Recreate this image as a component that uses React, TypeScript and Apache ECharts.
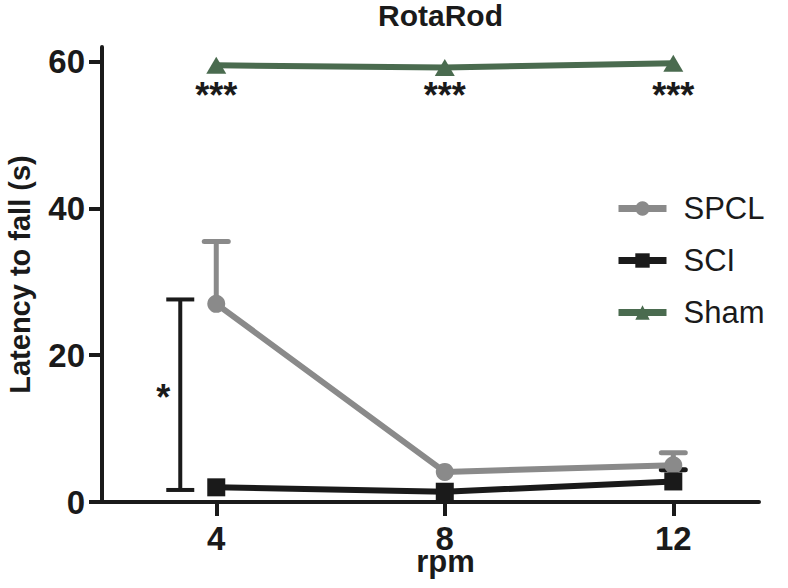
import React, { useEffect, useRef } from "react";
import * as echarts from "echarts";

const rpm = [4, 8, 12];
const spclMean = [27.0, 4.1, 5.0];
const spclUpper = [35.5, 4.1, 6.7];
const sciMean = [2.0, 1.4, 2.8];
const sciUpper = [2.0, 1.4, 4.4];
const shamMean = [59.5, 59.2, 59.8];
const xTicks = [4, 8, 12];
const yTicks = [0, 20, 40, 60];
const shamStarLabel = "***";
const shamStarY = 55.4;
const bracketX = 3.37;
const bracketLow = 1.64;
const bracketHigh = 27.6;
const bracketStar = "*";
const bracketStarX = 3.07;
const bracketStarY = 14.2;

const FONT = '"Liberation Sans", Arial, Helvetica, sans-serif';
const GRAY = "#8a8a8a";
const BLACK = "#1a1a1a";
const GREEN = "#4a6b4f";

const errorBarSeries = (means: number[], uppers: number[], color: string, z: number) => ({
  type: "custom",
  data: rpm.map((x, i) => [x, means[i], uppers[i]]),
  encode: { x: 0, y: [1, 2] },
  z,
  silent: true,
  renderItem: (_p: any, api: any) => {
    const x = api.value(0);
    const lo = api.value(1);
    const hi = api.value(2);
    if (hi <= lo) return { type: "group", children: [] };
    const a = api.coord([x, lo]);
    const b = api.coord([x, hi]);
    return {
      type: "group",
      children: [
        { type: "line", shape: { x1: a[0], y1: a[1], x2: b[0], y2: b[1] }, style: { stroke: color, lineWidth: 5 } },
        { type: "line", shape: { x1: b[0] - 12, y1: b[1], x2: b[0] + 12, y2: b[1] }, style: { stroke: color, lineWidth: 5, lineCap: "round" } },
      ],
    };
  },
});

const textSeries = (points: number[][], texts: string[], font: string) => ({
  type: "custom",
  data: points,
  encode: { x: 0, y: 1 },
  silent: true,
  z: 10,
  renderItem: (p: any, api: any) => {
    const c = api.coord([api.value(0), api.value(1)]);
    return {
      type: "text",
      x: c[0],
      y: c[1],
      style: { text: texts[p.dataIndex], font, fill: BLACK, align: "center", verticalAlign: "middle" },
    };
  },
});

export default function App() {
  const ref = useRef<HTMLDivElement>(null);
  useEffect(() => {
    if (!ref.current) return;
    const chart = echarts.init(ref.current, undefined, { renderer: "svg" });
    chart.setOption({
      animation: false,
      backgroundColor: "#ffffff",
      title: {
        text: "RotaRod",
        left: 378,
        top: 0,
        padding: 0,
        textStyle: { fontFamily: FONT, fontWeight: "bold", fontSize: 30, color: BLACK },
      },
      legend: {
        orient: "vertical",
        left: 610,
        top: 188,
        itemWidth: 48,
        itemHeight: 18,
        itemGap: 21,
        data: ["SPCL", "SCI", "Sham"],
        lineStyle: { width: 7 },
        textStyle: { fontFamily: FONT, fontSize: 31, color: BLACK, padding: [0, 0, 0, 12] },
      },
      grid: { left: 102, right: 29, top: 47, bottom: 86, outerBoundsMode: "none" },
      xAxis: {
        type: "value",
        min: 2,
        max: 13.5,
        name: "rpm",
        nameLocation: "middle",
        nameGap: 49,
        nameMoveOverlap: false,
        nameTextStyle: {
          fontFamily: FONT,
          fontWeight: "bold",
          fontSize: 31,
          lineHeight: 20,
          color: BLACK,
          padding: [0, 0, 0, 30],
        },
        splitLine: { show: false },
        axisLine: { lineStyle: { color: BLACK, width: 4 } },
        axisTick: { customValues: xTicks, length: 14, lineStyle: { color: BLACK, width: 4 } },
        axisLabel: {
          customValues: xTicks,
          margin: 26,
          lineHeight: 20,
          fontFamily: FONT,
          fontWeight: "bold",
          fontSize: 33,
          color: BLACK,
        },
      },
      yAxis: {
        type: "value",
        min: 0,
        max: 62,
        name: "Latency to fall (s)",
        nameLocation: "middle",
        nameGap: 68,
        nameTextStyle: { fontFamily: FONT, fontWeight: "bold", fontSize: 29, color: BLACK },
        splitLine: { show: false },
        axisLine: { show: true, lineStyle: { color: BLACK, width: 4 } },
        axisTick: { show: true, customValues: yTicks, length: 13, lineStyle: { color: BLACK, width: 4 } },
        axisLabel: {
          customValues: yTicks,
          margin: 17,
          fontFamily: FONT,
          fontWeight: "bold",
          fontSize: 33,
          color: BLACK,
        },
      },
      series: [
        errorBarSeries(spclMean, spclUpper, GRAY, 1),
        errorBarSeries(sciMean, sciUpper, BLACK, 1),
        {
          name: "SPCL",
          type: "line",
          data: rpm.map((x, i) => [x, spclMean[i]]),
          symbol: "circle",
          symbolSize: 18,
          lineStyle: { color: GRAY, width: 6 },
          itemStyle: { color: GRAY },
          z: 3,
        },
        {
          name: "SCI",
          type: "line",
          data: rpm.map((x, i) => [x, sciMean[i]]),
          symbol: "rect",
          symbolSize: 18,
          lineStyle: { color: BLACK, width: 6 },
          itemStyle: { color: BLACK },
          z: 4,
        },
        {
          name: "Sham",
          type: "line",
          data: rpm.map((x, i) => [x, shamMean[i]]),
          symbol: "triangle",
          symbolSize: [20, 17],
          lineStyle: { color: GREEN, width: 6 },
          itemStyle: { color: GREEN },
          z: 3,
        },
        {
          type: "custom",
          data: [[bracketX, bracketLow, bracketHigh]],
          encode: { x: 0, y: [1, 2] },
          silent: true,
          z: 5,
          renderItem: (_p: any, api: any) => {
            const a = api.coord([api.value(0), api.value(1)]);
            const b = api.coord([api.value(0), api.value(2)]);
            const st = { stroke: BLACK, lineWidth: 4 };
            return {
              type: "group",
              children: [
                { type: "line", shape: { x1: a[0], y1: a[1], x2: b[0], y2: b[1] }, style: st },
                { type: "line", shape: { x1: a[0] - 14, y1: a[1], x2: a[0] + 14, y2: a[1] }, style: st },
                { type: "line", shape: { x1: b[0] - 14, y1: b[1], x2: b[0] + 14, y2: b[1] }, style: st },
              ],
            };
          },
        },
        textSeries(rpm.map((x) => [x, shamStarY]), rpm.map(() => shamStarLabel), `bold 36px ${FONT}`),
        textSeries([[bracketStarX, bracketStarY]], [bracketStar], `bold 36px ${FONT}`),
      ],
    });
    return () => chart.dispose();
  }, []);
  return <div ref={ref} style={{ position: "absolute", left: 0, top: 0, width: 788, height: 588 }} />;
}
